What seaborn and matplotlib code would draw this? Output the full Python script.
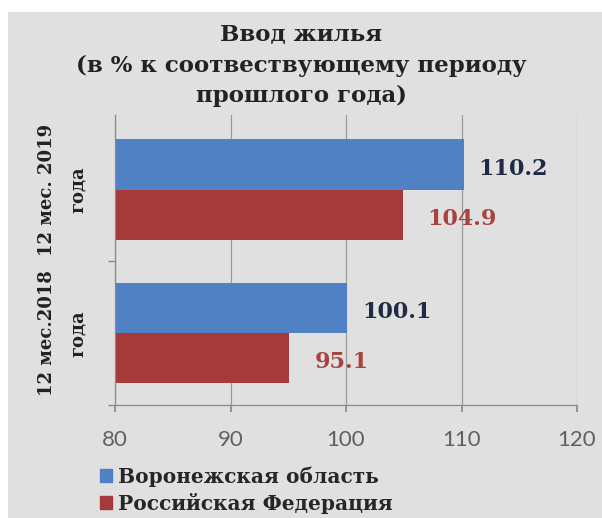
import matplotlib
matplotlib.use("Agg")
import matplotlib.pyplot as plt
import matplotlib.patches as mpatches
from matplotlib.ticker import FixedLocator
import pandas as pd
import seaborn as sns

# data
periods = ["12 мес. 2019\nгода", "12 мес.2018\nгода"]
series = ["Воронежская область", "Российская Федерация"]
voronezh = [110.2, 100.1]
russia = [104.9, 95.1]
x_ticks = [80, 90, 100, 110, 120]

df = pd.DataFrame({
    "period": periods * 2,
    "region": [series[0]] * 2 + [series[1]] * 2,
    "value": voronezh + russia,
})

blue = "#4f81c4"
red = "#a63a3a"
bg = "#e0e0e0"
serif = ["DejaVu Serif"]

sns.set_theme(style="white")
plt.rcParams["font.family"] = ["DejaVu Sans"]

fig = plt.figure(figsize=(6.02, 5.18), dpi=100, facecolor="white")
# grey panel area behind the chart
fig.patches.append(mpatches.Rectangle((8 / 602, 0), 1, 1 - 12 / 518,
                                      transform=fig.transFigure,
                                      facecolor=bg, edgecolor="none", zorder=-10))

ax = fig.add_axes([115 / 602, 1 - 405 / 518, (577 - 115) / 602, (405 - 115) / 518])
ax.set_zorder(2)
ax.set_facecolor(bg)

sns.barplot(data=df, y="period", x="value", hue="region", orient="h",
            palette=[blue, red], width=0.7, ax=ax, legend=False,
            saturation=1, edgecolor="none")

ax.set_xlim(80, 120)
ax.set_ylim(1.5, -0.52)
ax.set_xticks(x_ticks)
ax.xaxis.grid(True, color="#9a9a9a", linewidth=0.9)
ax.set_axisbelow(True)
for s in ["top", "right"]:
    ax.spines[s].set_visible(False)
for s in ["left", "bottom"]:
    ax.spines[s].set_color("#8a8a8a")
    ax.spines[s].set_linewidth(0.9)

ax.tick_params(axis="x", length=5, color="#8a8a8a", labelsize=16,
               labelcolor="#606060", pad=13, bottom=True)
for lab in ax.get_xticklabels():
    lab.set_family(["Lato", "DejaVu Sans"])

ax.set_yticks([0, 1])
ax.set_yticklabels(periods, rotation=90, va="center", ha="center",
                   fontsize=13, fontweight="bold", family=serif, color="#222222",
                   linespacing=1.9)
ax.tick_params(axis="y", which="major", length=0, pad=38)
ax.yaxis.set_minor_locator(FixedLocator([0.5, 1.5]))
ax.tick_params(axis="y", which="minor", length=5, color="#8a8a8a", left=True)
ax.set_xlabel("")
ax.set_ylabel("")

# value labels to the right of each bar
label_colors = ["#1f2a44", "#a84242"]
label_pads = [15, 25]
for container, col, pad in zip(ax.containers, label_colors, label_pads):
    for bar in container:
        w = bar.get_width()
        yc = bar.get_y() + bar.get_height() / 2
        ax.annotate(f"{w:.1f}", xy=(w, yc), xytext=(pad, -4),
                    textcoords="offset pixels", ha="left", va="center",
                    fontsize=16, fontweight="bold", family=serif, color=col)

fig.text(0.5, 1 - 24 / 518,
         "Ввод жилья\n(в % к соотвествующему периоду\nпрошлого года)",
         ha="center", va="top", fontsize=16.5, fontweight="bold", family=serif,
         color="#222222", linespacing=1.5)

handles = [mpatches.Patch(color=blue, label=series[0]),
           mpatches.Patch(color=red, label=series[1])]
fig.legend(handles=handles, loc="upper left", bbox_to_anchor=(82 / 602, 1 - 448 / 518),
           frameon=False, handlelength=0.6, handleheight=0.6, handletextpad=0.3,
           labelspacing=0.3, prop={"family": serif, "weight": "bold", "size": 14.5})

fig.savefig("out.png", dpi=100, facecolor=fig.get_facecolor())
